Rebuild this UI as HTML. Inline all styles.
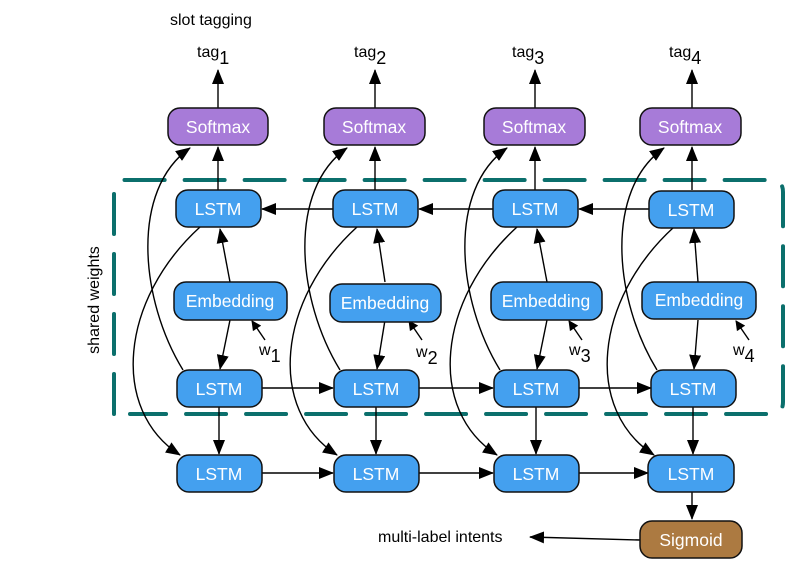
<!DOCTYPE html><html><head><style>body{margin:0;background:#fff}svg{display:block}text{font-family:"Liberation Sans",sans-serif}</style></head><body>
<svg width="789" height="561" viewBox="0 0 789 561" xmlns="http://www.w3.org/2000/svg">
<defs><marker id="a" markerWidth="10" markerHeight="10" refX="9" refY="5" orient="auto" markerUnits="userSpaceOnUse"><path d="M0,0 L10,5 L0,10 z" fill="#000"/></marker>
<marker id="b" markerWidth="15" markerHeight="12" refX="14" refY="6" orient="auto" markerUnits="userSpaceOnUse"><path d="M0,0 L15,6 L0,12 z" fill="#000"/></marker></defs>
<path d="M114,414 V192 Q114,180 126,180 H771 Q783,180 783,192 V402 Q783,414 771,414 H130" fill="none" stroke="#0b6f6c" stroke-width="4" stroke-dasharray="40,20" stroke-linecap="round"/>
<text x="170" y="25" font-size="16">slot tagging</text>
<text x="99" y="300" font-size="16" text-anchor="middle" transform="rotate(-90 99 300)">shared weights</text>
<g stroke="#000" stroke-width="1.4" fill="none">
<line x1="640" y1="540" x2="530" y2="537" marker-end="url(#b)"/>
<line x1="692" y1="492" x2="692" y2="519" marker-end="url(#b)"/>
<line x1="333" y1="209" x2="262" y2="209" marker-end="url(#b)"/>
<line x1="493" y1="209" x2="419" y2="209" marker-end="url(#b)"/>
<line x1="649" y1="209" x2="579" y2="209" marker-end="url(#b)"/>
<line x1="262" y1="388" x2="333" y2="388" marker-end="url(#b)"/>
<line x1="419" y1="388" x2="493" y2="388" marker-end="url(#b)"/>
<line x1="579" y1="388" x2="651" y2="388" marker-end="url(#b)"/>
<line x1="262" y1="473" x2="333" y2="473" marker-end="url(#b)"/>
<line x1="419" y1="473" x2="493" y2="473" marker-end="url(#b)"/>
<line x1="579" y1="473" x2="648" y2="473" marker-end="url(#b)"/>
</g>
<g stroke="#000" stroke-width="1.4" fill="none">
<g transform="translate(0,0)">
<line x1="218" y1="108" x2="218" y2="70" marker-end="url(#b)"/>
<line x1="218" y1="190" x2="218" y2="147" marker-end="url(#b)"/>
<line x1="230" y1="282" x2="220" y2="229" marker-end="url(#b)"/>
<line x1="230" y1="320" x2="220" y2="369" marker-end="url(#b)"/>
<line x1="219" y1="407" x2="219" y2="454" marker-end="url(#b)"/>
<line x1="265" y1="340" x2="252" y2="321" marker-end="url(#a)"/>
<path d="M200,227 C120,300 110,410 180,455" marker-end="url(#b)"/>
<path d="M183,370 C140,300 130,190 190,148" marker-end="url(#b)"/>
</g>
<g transform="translate(157,0)">
<line x1="218" y1="108" x2="218" y2="70" marker-end="url(#b)"/>
<line x1="218" y1="190" x2="218" y2="147" marker-end="url(#b)"/>
<line x1="228" y1="282" x2="220" y2="229" marker-end="url(#b)"/>
<line x1="228" y1="320" x2="220" y2="369" marker-end="url(#b)"/>
<line x1="219" y1="407" x2="219" y2="454" marker-end="url(#b)"/>
<line x1="265" y1="340" x2="252" y2="321" marker-end="url(#a)"/>
<path d="M200,227 C120,300 110,410 180,455" marker-end="url(#b)"/>
<path d="M183,370 C140,300 130,190 190,148" marker-end="url(#b)"/>
</g>
<g transform="translate(317,0)">
<line x1="218" y1="108" x2="218" y2="70" marker-end="url(#b)"/>
<line x1="218" y1="190" x2="218" y2="147" marker-end="url(#b)"/>
<line x1="230" y1="282" x2="220" y2="229" marker-end="url(#b)"/>
<line x1="230" y1="320" x2="220" y2="369" marker-end="url(#b)"/>
<line x1="219" y1="407" x2="219" y2="454" marker-end="url(#b)"/>
<line x1="265" y1="340" x2="252" y2="321" marker-end="url(#a)"/>
<path d="M200,227 C120,300 110,410 180,455" marker-end="url(#b)"/>
<path d="M183,370 C140,300 130,190 190,148" marker-end="url(#b)"/>
</g>
<g transform="translate(474,0)">
<line x1="218" y1="108" x2="218" y2="70" marker-end="url(#b)"/>
<line x1="218" y1="190" x2="218" y2="147" marker-end="url(#b)"/>
<line x1="224" y1="282" x2="220" y2="229" marker-end="url(#b)"/>
<line x1="224" y1="320" x2="220" y2="369" marker-end="url(#b)"/>
<line x1="219" y1="407" x2="219" y2="454" marker-end="url(#b)"/>
<line x1="275" y1="340" x2="262" y2="321" marker-end="url(#a)"/>
<path d="M200,227 C120,300 110,410 180,455" marker-end="url(#b)"/>
<path d="M183,370 C140,300 130,190 190,148" marker-end="url(#b)"/>
</g>
</g>
<g stroke="#111" stroke-width="1.5">
<rect x="168" y="108" width="100" height="37" rx="12" fill="#a77bd8"/>
<rect x="324" y="108" width="101" height="37" rx="12" fill="#a77bd8"/>
<rect x="484" y="108" width="101" height="37" rx="12" fill="#a77bd8"/>
<rect x="640" y="108" width="101" height="37" rx="12" fill="#a77bd8"/>
<g fill="#44a0ef">
<rect x="176" y="190" width="85" height="37" rx="12"/><rect x="333" y="190" width="85" height="37" rx="12"/><rect x="493" y="190" width="85" height="37" rx="12"/><rect x="649" y="191" width="85" height="37" rx="12"/>
<rect x="174" y="282" width="113" height="38" rx="12"/><rect x="330" y="284" width="111" height="38" rx="12"/><rect x="491" y="282" width="111" height="38" rx="12"/><rect x="642" y="282" width="114" height="37" rx="12"/>
<rect x="177" y="370" width="85" height="37" rx="12"/><rect x="334" y="370" width="85" height="37" rx="12"/><rect x="494" y="370" width="85" height="37" rx="12"/><rect x="651" y="370" width="85" height="37" rx="12"/>
<rect x="177" y="455" width="85" height="37" rx="12"/><rect x="334" y="455" width="85" height="37" rx="12"/><rect x="494" y="455" width="85" height="37" rx="12"/><rect x="648" y="455" width="86" height="37" rx="12"/>
</g>
<rect x="640" y="521" width="102" height="37" rx="12" fill="#ac7a41"/>
</g>
<g fill="#fff" font-size="17.5" text-anchor="middle">
<text x="218" y="133">Softmax</text><text x="374" y="133">Softmax</text><text x="534" y="133">Softmax</text><text x="690" y="133">Softmax</text>
<text x="218" y="215">LSTM</text><text x="375" y="215">LSTM</text><text x="535" y="215">LSTM</text><text x="691" y="216">LSTM</text>
<text x="230" y="307">Embedding</text><text x="385" y="309">Embedding</text><text x="546" y="307">Embedding</text><text x="699" y="306">Embedding</text>
<text x="219" y="395">LSTM</text><text x="376" y="395">LSTM</text><text x="536" y="395">LSTM</text><text x="693" y="395">LSTM</text>
<text x="219" y="480">LSTM</text><text x="376" y="480">LSTM</text><text x="536" y="480">LSTM</text><text x="691" y="480">LSTM</text>
<text x="691" y="546">Sigmoid</text>
</g>
<g font-size="16">
<text x="197" y="57">tag<tspan font-size="18" dy="7">1</tspan></text>
<text x="354" y="57">tag<tspan font-size="18" dy="7">2</tspan></text>
<text x="512" y="57">tag<tspan font-size="18" dy="7">3</tspan></text>
<text x="669" y="57">tag<tspan font-size="18" dy="7">4</tspan></text>
<text x="259" y="355">w<tspan font-size="18" dy="7">1</tspan></text>
<text x="416" y="357">w<tspan font-size="18" dy="7">2</tspan></text>
<text x="569" y="355">w<tspan font-size="18" dy="7">3</tspan></text>
<text x="733" y="355">w<tspan font-size="18" dy="7">4</tspan></text>
<text x="378" y="542">multi-label intents</text>
</g>
</svg></body></html>
